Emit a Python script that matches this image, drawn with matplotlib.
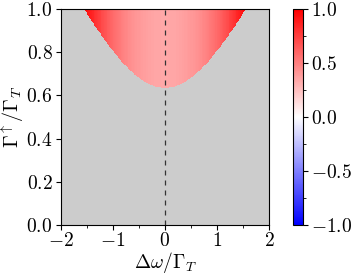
import numpy as np
import matplotlib
matplotlib.use('Agg')
import matplotlib.pyplot as plt
from matplotlib.ticker import MultipleLocator

plt.rcParams['font.family'] = 'serif'
plt.rcParams['font.serif'] = ['cmr10']
plt.rcParams['mathtext.fontset'] = 'cm'
plt.rcParams['axes.formatter.use_mathtext'] = True
plt.rcParams['font.size'] = 14
plt.rcParams['xtick.major.pad'] = 1.5
plt.rcParams['ytick.major.pad'] = 2.5

# values (symmetric in detuning)
dw_pts = [0.0, 0.2, 0.4, 0.6, 0.8, 1.0, 1.2, 1.4, 1.6, 1.8]
edge_pts = [0.634, 0.642, 0.665, 0.701, 0.749, 0.807, 0.872, 0.943, 1.019, 1.099]
val_pts = [0.34, 0.35, 0.38, 0.42, 0.49, 0.58, 0.70, 0.86, 1.0, 1.0]

nx, ny = 240, 216
dw = np.linspace(-2, 2, nx)
g = np.linspace(0, 1, ny)
edge = np.interp(np.abs(dw), dw_pts, edge_pts)
val = np.interp(np.abs(dw), dw_pts, val_pts)
Z = np.where(g[:, None] >= edge[None, :], val[None, :], np.nan)

fig = plt.figure(figsize=(3.54, 2.73), dpi=100)
ax = fig.add_axes([0.172, 0.176, 0.588, 0.791])
cax = fig.add_axes([0.828, 0.176, 0.028, 0.791])

cmap = plt.get_cmap('bwr').copy()
cmap.set_bad('#cccccc')
ax.set_facecolor('#cccccc')
im = ax.pcolormesh(dw, g, Z, cmap=cmap, vmin=-1, vmax=1, shading='nearest')
ax.axvline(0, color='#333333', lw=0.9, ls=(0, (4, 4)))

ax.set_xlim(-2, 2)
ax.set_ylim(0, 1)
ax.xaxis.set_major_locator(MultipleLocator(1))
ax.xaxis.set_minor_locator(MultipleLocator(0.5))
ax.yaxis.set_major_locator(MultipleLocator(0.2))
ax.set_xlabel(r'$\Delta\omega/\Gamma_T$', fontsize=14, labelpad=0)
ax.set_ylabel(r'$\Gamma^{\uparrow}/\Gamma_T$', fontsize=14.5, labelpad=0)

cb = fig.colorbar(im, cax=cax)
cb.set_ticks([-1, -0.5, 0, 0.5, 1])
cb.ax.yaxis.set_minor_locator(MultipleLocator(0.25))

fig.savefig('out.png', dpi=100)
